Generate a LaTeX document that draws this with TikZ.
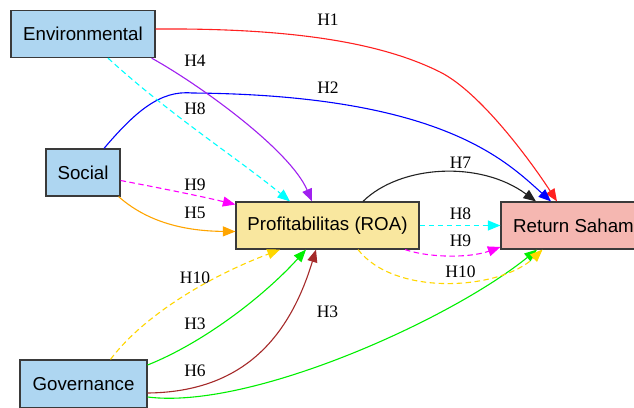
\documentclass[tikz,border=0pt]{standalone}
\usepackage{fontspec}
\setmainfont{Liberation Serif}
\setsansfont{Liberation Sans}
\usetikzlibrary{calc,arrows.meta}
\definecolor{boxblue}{HTML}{AED6F1}
\definecolor{boxyellow}{HTML}{F9E79F}
\definecolor{boxpink}{HTML}{F5B7B1}
\definecolor{boxline}{HTML}{3A3A3A}
\definecolor{gvpurple}{HTML}{A020F0}
\definecolor{gvorange}{HTML}{FFA500}
\definecolor{gvgold}{HTML}{FFD700}
\definecolor{gvgreen}{HTML}{00F000}
\definecolor{gvbrown}{HTML}{A52A2A}
\definecolor{gvred}{HTML}{FF2020}
\definecolor{gvblue}{HTML}{0000FF}
\definecolor{gvcyan}{HTML}{00FFFF}
\definecolor{gvmagenta}{HTML}{FF00FF}
\definecolor{gvblack}{HTML}{222222}
\begin{document}
\begin{tikzpicture}[x=1pt,y=-1pt,
  varbox/.style={draw=boxline,line width=1.2pt,inner sep=0pt,minimum height=47pt,
    font=\sffamily\fontsize{18.7}{22}\selectfont},
  hlab/.style={inner sep=0pt,font=\fontsize{17.5}{20}\selectfont},
  conn/.style={line width=1.1pt,-{Triangle[length=12.5pt,width=10pt]}},
  dsh/.style={dash pattern=on 5.5pt off 3.5pt}
]
\useasboundingbox (0,0) rectangle (634,407);
\fill[white] (0,0) rectangle (634,407);

% nodes
\node[varbox,fill=boxblue,minimum width=144pt] (env) at (83,34) {Environmental};
\node[varbox,fill=boxblue,minimum width=74pt] (soc) at (83,172.5) {Social};
\node[varbox,fill=boxblue,minimum width=127pt,minimum height=48pt] (gov) at (83.5,384) {Governance};
\node[varbox,fill=boxyellow,minimum width=183pt] (roa) at (327.5,225.5) {Profitabilitas (ROA)};
\node[varbox,fill=boxpink,minimum width=145pt] (ret) at (573.5,225.5) {Return Saham};

% H1 red
\draw[conn,gvred] ($(env.east)+(0,-5)$) .. controls (290,28) and (380,42) .. (440,72)
   .. controls (480,92) and (530,160) .. ($(ret.north)+(-16.5,0)$);
% H2 blue
\draw[conn,gvblue] ($(soc.north)+(21,0)$) .. controls (135,112) and (160,90) .. (192,93)
   .. controls (440,95) and (505,160) .. ($(ret.north)+(-22.5,0)$);
% H4 purple
\draw[conn,gvpurple] ($(env.south east)+(-4,0)$) .. controls (200,85) and (290,150) .. ($(roa.north)+(-15.5,0)$);
% H8 cyan dashed env->roa
\draw[conn,gvcyan,dsh] ($(env.south)+(25,0)$) .. controls (170,115) and (240,160) .. ($(roa.north)+(-37.5,0)$);
% H9 magenta dashed soc->roa
\draw[conn,gvmagenta,dsh] ($(soc.east)+(0,8)$) .. controls (160,188) and (200,196) .. ($(roa.west)+(0,-21)$);
% H5 orange
\draw[conn,gvorange] ($(soc.south east)+(-2,0)$) .. controls (145,220) and (180,231) .. ($(roa.west)+(0,6)$);
% H10 gold dashed gov->roa
\draw[conn,gvgold,dsh] ($(gov.north)+(27,0)$) .. controls (140,320) and (200,280) .. ($(roa.south)+(-47.5,0)$);
% H3 green gov->roa
\draw[conn,gvgreen] ($(gov.east)+(0,-19)$) .. controls (205,342) and (265,295) .. ($(roa.south)+(-21.5,0)$);
% H6 brown
\draw[conn,gvbrown] ($(gov.east)+(0,9)$) .. controls (245,392) and (290,335) .. ($(roa.south)+(-11.5,0)$);
% H3 green gov->ret
\draw[conn,gvgreen] ($(gov.east)+(0,13)$) .. controls (250,410) and (450,320) .. ($(ret.south)+(-36.5,0)$);
% H7 black
\draw[conn,gvblack] ($(roa.north)+(35.5,0)$) .. controls (400,165) and (480,160) .. ($(ret.north)+(-37.5,0)$);
% H8 cyan dashed roa->ret
\draw[conn,gvcyan,dsh] (roa.east) -- (ret.west);
% H9 magenta dashed roa->ret
\draw[conn,gvmagenta,dsh] ($(roa.south)+(77.5,0)$) .. controls (430,258) and (470,258) .. ($(ret.west)+(0,21.5)$);
% H10 gold dashed roa->ret
\draw[conn,gvgold,dsh] ($(roa.south)+(30.5,0)$) .. controls (395,297) and (500,290) .. ($(ret.south)+(-31,0)$);

% labels
\node[hlab] (l1) at (328,20) {H1};
\node[hlab] (l2) at (328,87.5) {H2};
\node[hlab] (l4) at (195,61) {H4};
\node[hlab] (l8a) at (195,109) {H8};
\node[hlab] (l9a) at (195,185) {H9};
\node[hlab] (l5) at (195,213) {H5};
\node[hlab] (l10a) at (195,277.5) {H10};
\node[hlab] (l3a) at (195,324) {H3};
\node[hlab] (l6) at (195,371) {H6};
\node[hlab] (l3b) at (327.5,312) {H3};
\node[hlab] (l7) at (460.5,162.5) {H7};
\node[hlab] (l8b) at (460.5,214) {H8};
\node[hlab] (l9b) at (460.5,241) {H9};
\node[hlab] (l10b) at (460.5,272) {H10};
\end{tikzpicture}
\end{document}
